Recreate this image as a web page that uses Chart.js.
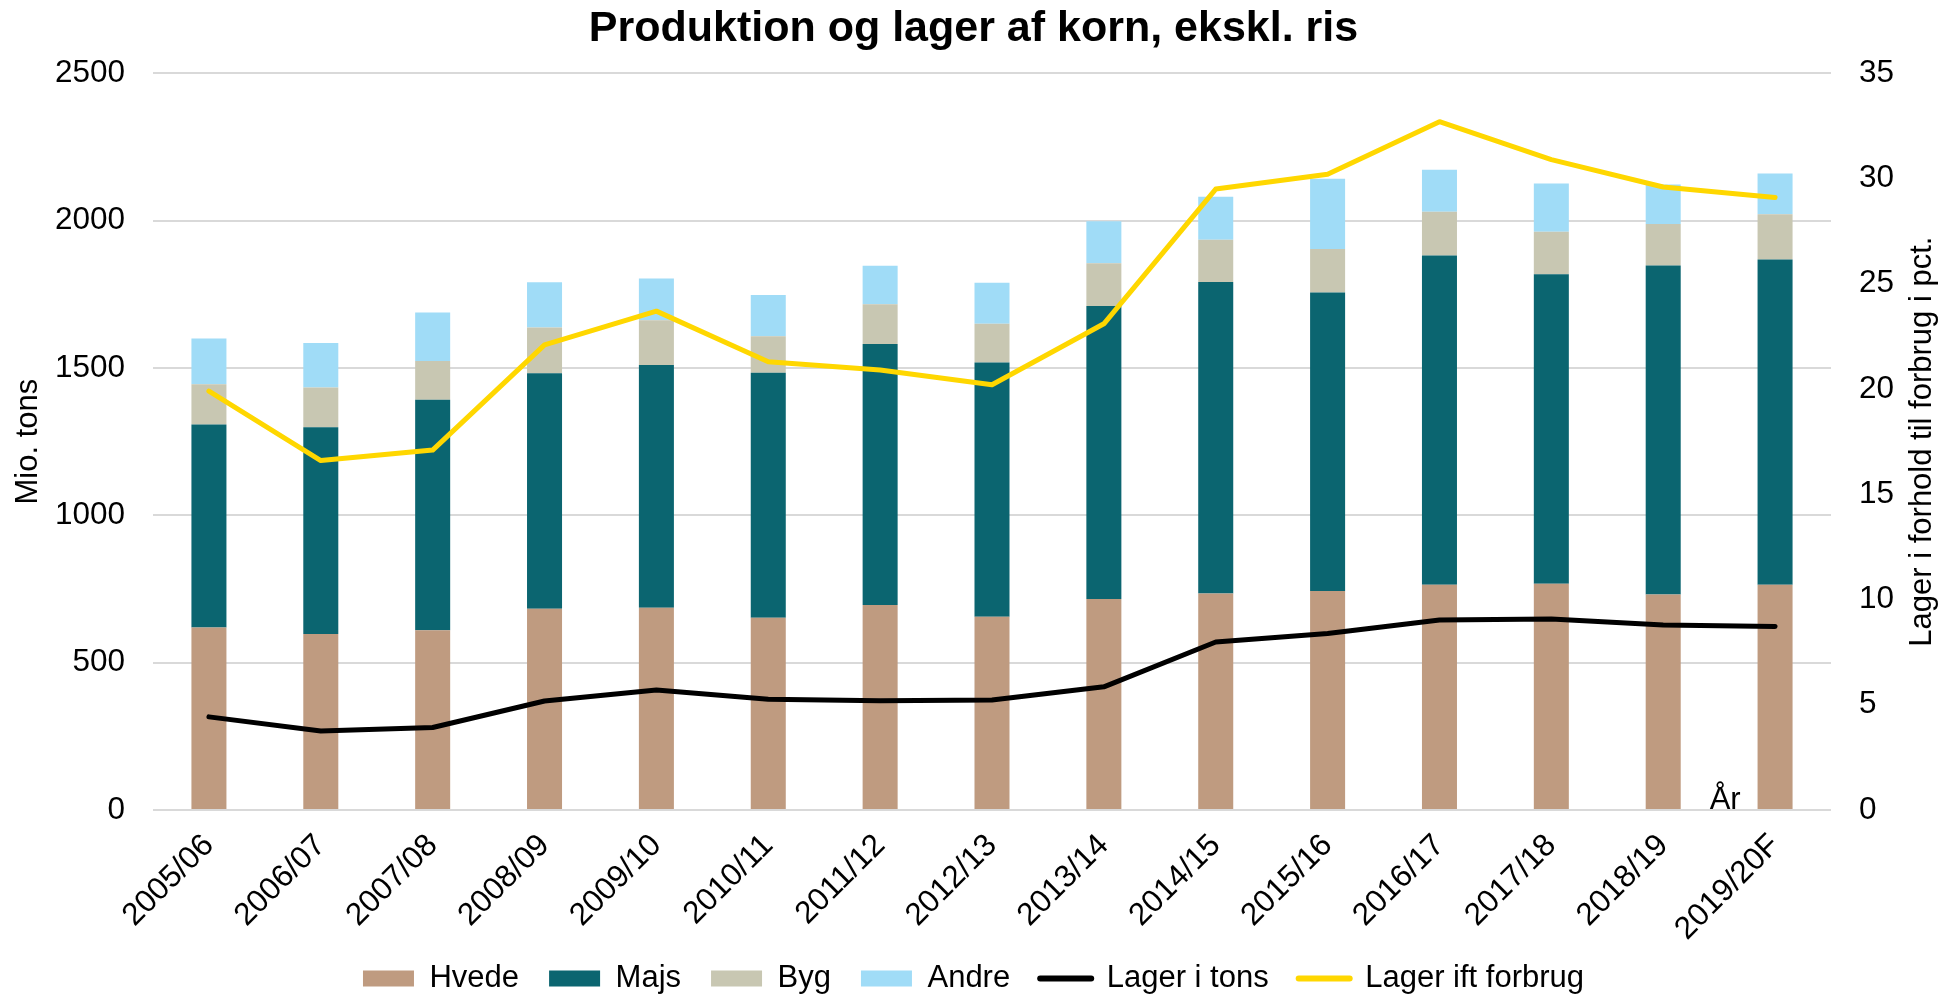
<!DOCTYPE html>
<html>
<head>
<meta charset="utf-8">
<script src="https://cdn.jsdelivr.net/npm/chart.js@4.4.1/dist/chart.umd.min.js"></script>
<style>
  html, body { margin: 0; padding: 0; background: #ffffff; }
  #wrap { width: 1947px; height: 996px; }
</style>
</head>
<body>
<div id="wrap"><canvas id="c" width="1947" height="996"></canvas></div>
<script>
// ---- Data ----
const categories = ['2005/06','2006/07','2007/08','2008/09','2009/10','2010/11','2011/12','2012/13','2013/14','2014/15','2015/16','2016/17','2017/18','2018/19','2019/20F'];
const hvede = [619, 597, 610, 683, 686, 652, 696, 656, 716, 735, 743, 764, 768, 731, 764];
const majs  = [689, 702, 782, 799, 824, 832, 885, 863, 994, 1057, 1013, 1118, 1050, 1117, 1104];
const byg   = [137, 135, 132, 155, 152, 124, 135, 131, 145, 143, 148, 148, 144, 141, 154];
const andre = [155, 151, 164, 154, 142, 140, 131, 139, 143, 146, 238, 143, 164, 134, 138];
const lagerTons = [316, 268, 280, 370, 407, 376, 371, 373, 418, 570, 599, 645, 648, 628, 623];
const lagerPct  = [19.9, 16.6, 17.1, 22.1, 23.7, 21.3, 20.9, 20.2, 23.1, 29.5, 30.2, 32.7, 30.9, 29.6, 29.1];
const leftTicks = [0, 500, 1000, 1500, 2000, 2500];
const rightTicks = [0, 5, 10, 15, 20, 25, 30, 35];

const titleText = 'Produktion og lager af korn, ekskl. ris';
const leftTitle = 'Mio. tons';
const rightTitle = 'Lager i forhold til forbrug i pct.';
const xTitle = 'År';

const FONT = '"Liberation Sans", Arial, Helvetica, sans-serif';

const extraText = {
  id: 'extraText',
  afterDraw(chart) {
    const { ctx, chartArea, scales } = chart;
    ctx.save();
    ctx.font = '31px ' + FONT;
    ctx.fillStyle = '#000000';
    const x = (scales.x.getPixelForValue(13) + scales.x.getPixelForValue(14)) / 2 + 6;
    ctx.textAlign = 'center';
    ctx.textBaseline = 'alphabetic';
    ctx.fillText(xTitle, x, chartArea.bottom - 1);
    ctx.translate(chart.width - 25, (chartArea.top + chartArea.bottom) / 2);
    ctx.rotate(-Math.PI / 2);
    ctx.textAlign = 'center';
    ctx.textBaseline = 'middle';
    ctx.fillText(rightTitle, 0, 0);
    ctx.restore();
  }
};

new Chart(document.getElementById('c'), {
  type: 'bar',
  data: {
    labels: categories,
    datasets: [
      { label: 'Hvede', data: hvede, backgroundColor: '#BF9B80', stack: 's', yAxisID: 'y', order: 2 },
      { label: 'Majs', data: majs, backgroundColor: '#0B6570', stack: 's', yAxisID: 'y', order: 2 },
      { label: 'Byg', data: byg, backgroundColor: '#C8C7B2', stack: 's', yAxisID: 'y', order: 2 },
      { label: 'Andre', data: andre, backgroundColor: '#A0DCF7', stack: 's', yAxisID: 'y', order: 2 },
      { type: 'line', label: 'Lager i tons', data: lagerTons, borderColor: '#000000', backgroundColor: '#000000',
        borderWidth: 5, pointRadius: 0, pointHoverRadius: 0, tension: 0, yAxisID: 'y', order: 1,
        borderCapStyle: 'round', borderJoinStyle: 'round', pointStyle: 'line' },
      { type: 'line', label: 'Lager ift forbrug', data: lagerPct, borderColor: '#FFD700', backgroundColor: '#FFD700',
        borderWidth: 5, pointRadius: 0, pointHoverRadius: 0, tension: 0, yAxisID: 'y1', order: 0,
        borderCapStyle: 'round', borderJoinStyle: 'round', pointStyle: 'line' }
    ]
  },
  options: {
    responsive: false,
    animation: false,
    devicePixelRatio: 1,
    layout: { padding: { left: 0, right: 0, top: 0, bottom: -8 } },
    datasets: { bar: { categoryPercentage: 1.0, barPercentage: 0.313 } },
    plugins: {
      title: {
        display: true, text: titleText, color: '#000000',
        font: { family: FONT, size: 43, weight: 'bold' },
        padding: { top: 3, bottom: 18.7 }
      },
      legend: {
        position: 'bottom',
        labels: {
          color: '#000000',
          font: { family: FONT, size: 31 },
          usePointStyle: true,
          pointStyleWidth: 51,
          boxHeight: 16,
          padding: 30,
          generateLabels(chart) {
            return chart.data.datasets.map((ds, i) => {
              const isLine = ds.type === 'line';
              return {
                text: ds.label,
                datasetIndex: i,
                fillStyle: ds.backgroundColor,
                strokeStyle: isLine ? ds.borderColor : ds.backgroundColor,
                lineWidth: isLine ? 6 : 0,
                pointStyle: isLine ? 'line' : 'rect',
                lineCap: 'round',
                hidden: false,
                fontColor: '#000000'
              };
            });
          }
        }
      },
      tooltip: { enabled: false }
    },
    scales: {
      x: {
        grid: { display: false, drawTicks: false },
        border: { display: false },
        ticks: { color: '#000000', font: { family: FONT, size: 31.5 }, minRotation: 45, maxRotation: 45, padding: 17, labelOffset: 0, autoSkip: false },
        afterFit(scale) {
          scale.height = 123;
          scale._computeLabelArea = function () { return undefined; };
        }
      },
      y: {
        position: 'left',
        min: 0, max: 2500,
        afterBuildTicks(scale) { scale.ticks = leftTicks.map(v => ({ value: v })); },
        grid: { color: '#D9D9D9', lineWidth: 2, drawTicks: false },
        border: { display: false },
        ticks: { color: '#000000', font: { family: FONT, size: 31.5 }, padding: 28, callback: (v) => String(v) },
        title: { display: true, text: leftTitle, color: '#000000', font: { family: FONT, size: 31 }, padding: { top: 10, bottom: 0 } },
        afterFit(scale) { scale.width = 153; }
      },
      y1: {
        position: 'right',
        min: 0, max: 35,
        afterBuildTicks(scale) { scale.ticks = rightTicks.map(v => ({ value: v })); },
        grid: { display: false, drawTicks: false },
        border: { display: false },
        ticks: { color: '#000000', font: { family: FONT, size: 31.5 }, padding: 28, callback: (v) => String(v) },
        afterFit(scale) { scale.width = 116; }
      }
    }
  },
  plugins: [extraText]
});
</script>
</body>
</html>
